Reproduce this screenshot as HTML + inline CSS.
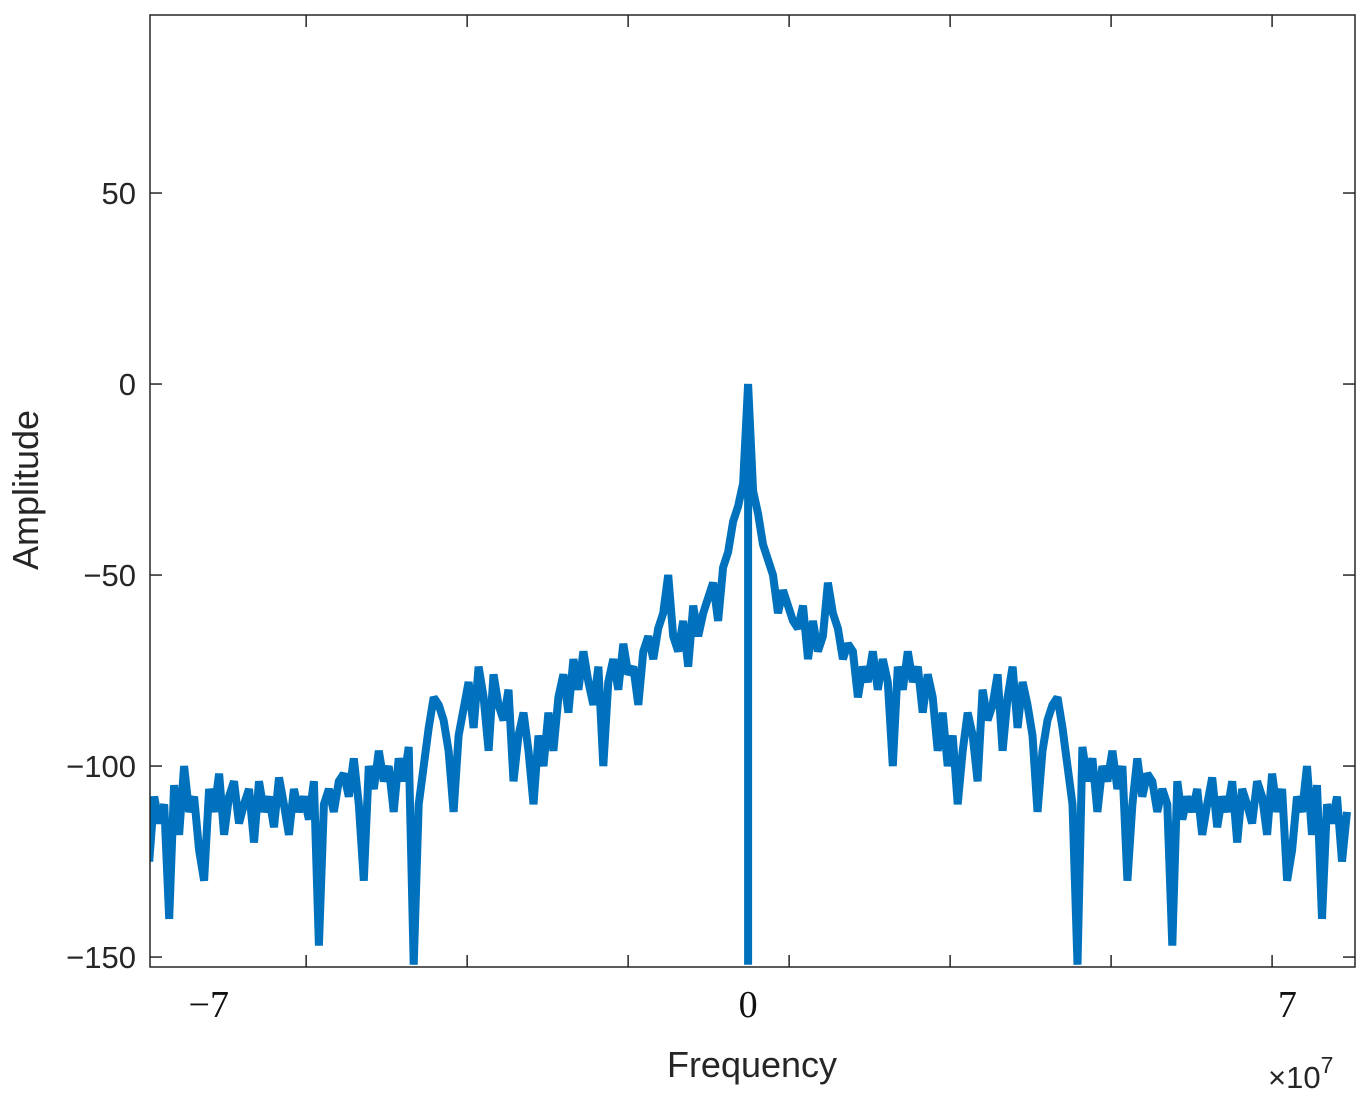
<!DOCTYPE html>
<html><head><meta charset="utf-8"><style>
html,body{margin:0;padding:0;background:#fff;}
svg{display:block;font-family:"Liberation Sans",sans-serif;}
</style></head><body>
<svg id="chart" width="1370" height="1098" viewBox="0 0 1370 1098" xmlns="http://www.w3.org/2000/svg">
<g id="plot"></g>
</svg>
<script>
const freqStart = -7.44;
const freqStep = 0.062;
const amplitudes = [
-125,-108,-115,-110,-140,
-105,-118,-100,-112,-108,-122,
-130,-106,-112,-102,-118,-108,-104,-115,-110,-106,
-120,-104,-112,-108,-116,-103,-110,-118,-106,-112,
-108,-114,-104,-147,-110,-106,-112,-104,-102,-108,
-98,-110,-130,-100,-106,-96,-104,-100,-112,-98,
-104,-95,-152,-110,-100,-90,
-82,-84,-88,-96,-112,-92,
-85,-78,-90,-74,-82,-96,-76,-84,-88,-80,-104,-92,-86,-96,
-110,-92,-100,-86,-96,-82,
-76,-86,-72,-80,-70,-78,-84,-74,-100,-78,-72,-80,-68,-76,-74,-84,-70,-66,
-72,-64,-60,-50,-66,-70,-62,-74,-58,-66,
-60,-56,-52,-62,-48,-44,-36,-32,-26,
0,
-28,-34,-42,-46,-50,-60,-54,-58,-62,
-64,-58,-72,-62,-70,-66,-52,-60,-64,-72,
-68,-70,-82,-74,-78,-70,-80,-72,-78,-100,-74,-80,-70,-78,-74,-86,-76,
-82,-96,-86,-100,-92,-110,
-96,-86,-92,-104,-80,-88,-84,-76,-96,-82,-74,-90,-78,-84,
-92,-112,-96,-88,-84,-82,
-90,-100,-110,-152,-95,-104,
-98,-112,-100,-104,-96,-106,-100,-130,-110,-98,
-108,-102,-104,-112,-106,-110,-147,-104,-114,-108,
-112,-106,-118,-110,-103,-116,-108,-112,-104,-120,
-106,-110,-115,-104,-108,-118,-102,-112,-106,-130,
-122,-108,-112,-100,-118,-105,
-140,-110,-115,-108,-125,-112
];
const notchFreq = [0];
const notchAmp = [-152];
const yTicks = [50, 0, -50, -100, -150];
const yTickLabels = ["50", "0", "\u221250", "\u2212100", "\u2212150"];
const xTicks = [-5.49, -3.49, -1.49, 0.51, 2.51, 4.51, 6.51];
const xLabelVals = [-6.7, 0, 6.7];
const xLabelText = ["\u22127", "0", "7"];

const L = 150, R = 1355, T = 15, B = 967;
const xMin = -7.43, xMax = 7.54, yMin = -152.6, yMax = 96.6;
const sx = v => L + (v - xMin) / (xMax - xMin) * (R - L);
const sy = v => B - (v - yMin) / (yMax - yMin) * (B - T);
const NS = "http://www.w3.org/2000/svg";
const g = document.getElementById('plot');
function mk(tag, attrs, parent) {
  const e = document.createElementNS(NS, tag);
  for (const k in attrs) e.setAttribute(k, attrs[k]);
  (parent || g).appendChild(e);
  return e;
}
const defs = mk('defs', {});
const cp = mk('clipPath', {id: 'clip'}, defs);
mk('rect', {x: L, y: T, width: R - L, height: B - T}, cp);

let d = '';
const zeroIdx = Math.round((notchFreq[0] - freqStart) / freqStep);
amplitudes.forEach((a, i) => {
  const f = freqStart + i * freqStep;
  d += (i === 0 ? 'M' : 'L') + sx(f).toFixed(1) + ',' + sy(a).toFixed(1);
  if (i === zeroIdx) {
    d += 'L' + sx(notchFreq[0]).toFixed(1) + ',' + sy(notchAmp[0]).toFixed(1);
    d += 'L' + sx(notchFreq[0]).toFixed(1) + ',' + sy(a).toFixed(1);
  }
});
const line = mk('path', {d: d, fill: 'none', stroke: '#0072BD', 'stroke-width': 8, 'stroke-linejoin': 'miter', 'stroke-miterlimit': 2, 'clip-path': 'url(#clip)'});



const box = mk('rect', {x: L, y: T, width: R - L, height: B - T, fill: 'none', stroke: '#262626', 'stroke-width': 1.5});



yTicks.forEach((v, i) => {
  const y = sy(v);
  mk('line', {x1: L, x2: L + 12, y1: y, y2: y, stroke: '#262626', 'stroke-width': 1.5});
  mk('line', {x1: R, x2: R - 12, y1: y, y2: y, stroke: '#262626', 'stroke-width': 1.5});
  const t = mk('text', {x: L - 14, y: y + 11, 'text-anchor': 'end', 'font-size': 31, fill: '#262626'});
  t.textContent = yTickLabels[i];
  
  
});
xTicks.forEach(v => {
  const x = sx(v);
  mk('line', {x1: x, x2: x, y1: B, y2: B - 12, stroke: '#262626', 'stroke-width': 1.5});
  mk('line', {x1: x, x2: x, y1: T, y2: T + 12, stroke: '#262626', 'stroke-width': 1.5});
});
xLabelVals.forEach((v, i) => {
  const t = mk('text', {x: sx(v), y: 1017, 'text-anchor': 'middle', 'font-size': 38, fill: '#111', 'font-family': '"Liberation Serif", serif'});
  t.textContent = xLabelText[i];
  
  
});
const xt = mk('text', {x: 752, y: 1077, 'text-anchor': 'middle', 'font-size': 36, fill: '#262626'});
xt.textContent = 'Frequency';


const ex = mk('text', {x: 1268, y: 1088, 'font-size': 31, fill: '#262626'});
ex.innerHTML = '\u00d710<tspan dy="-15" font-size="23">7</tspan>';


const yt = mk('text', {x: 38, y: 490, 'text-anchor': 'middle', 'font-size': 36, fill: '#262626', transform: 'rotate(-90 38 490)'});
yt.textContent = 'Amplitude';


</script>
</body></html>
